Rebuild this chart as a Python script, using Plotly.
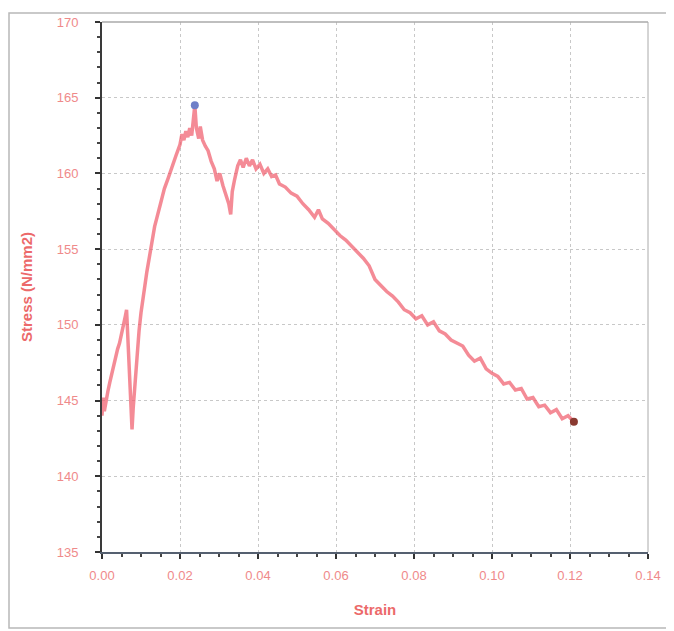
import plotly.graph_objects as go

strain = [0.0000, 0.0003, 0.0006, 0.0010, 0.0015, 0.0020, 0.0025, 0.0030, 0.0035, 0.0040,
          0.0045, 0.0050, 0.0055, 0.0060, 0.0063, 0.0066, 0.0070, 0.0074, 0.0077, 0.0080,
          0.0085, 0.0090, 0.0095, 0.0100, 0.0105, 0.0110, 0.0115, 0.0120, 0.0125, 0.0130,
          0.0135, 0.0140, 0.0145, 0.0150, 0.0155, 0.0160, 0.0170, 0.0180, 0.0190, 0.0200,
          0.0205, 0.0210, 0.0215, 0.0220, 0.0225, 0.0230, 0.0235, 0.0238, 0.0242, 0.0248,
          0.0252, 0.0258, 0.0265, 0.0272, 0.0280, 0.0288, 0.0295, 0.0302, 0.0310, 0.0318,
          0.0325, 0.0330, 0.0334, 0.0340, 0.0348, 0.0355, 0.0362, 0.0370, 0.0378, 0.0386,
          0.0395, 0.0405, 0.0415, 0.0425, 0.0435, 0.0445, 0.0455, 0.0470, 0.0485, 0.0500,
          0.0515, 0.0530, 0.0545, 0.0555, 0.0565, 0.0580, 0.0595, 0.0610, 0.0625, 0.0640,
          0.0655, 0.0670, 0.0685, 0.0700, 0.0715, 0.0730, 0.0745, 0.0760, 0.0775, 0.0790,
          0.0805, 0.0820, 0.0835, 0.0850, 0.0865, 0.0880, 0.0895, 0.0910, 0.0925, 0.0940,
          0.0955, 0.0970, 0.0985, 0.1000, 0.1015, 0.1030, 0.1045, 0.1060, 0.1075, 0.1090,
          0.1105, 0.1120, 0.1135, 0.1150, 0.1165, 0.1180, 0.1195, 0.1210]
stress = [144.0, 145.2, 144.3, 145.0, 145.6, 146.2, 146.8, 147.3, 147.9, 148.4,
          148.8, 149.5, 149.9, 150.6, 151.0, 149.0, 146.5, 143.8, 143.1, 144.5,
          146.3, 148.0, 149.6, 150.8, 151.9, 152.6, 153.5, 154.3, 155.2, 155.9,
          156.5, 157.0, 157.6, 158.0, 158.5, 159.0, 159.7, 160.5, 161.2, 161.9,
          162.6, 162.2, 162.8, 162.4, 163.0, 162.5, 163.6, 164.5, 163.0, 162.3,
          163.1, 162.2, 161.8, 161.5, 160.8, 160.3, 159.5, 160.0, 159.2, 158.6,
          158.0, 157.3, 158.8, 159.6, 160.5, 160.9, 160.4, 161.0, 160.5, 160.9,
          160.3, 160.6, 160.0, 160.3, 159.8, 159.9, 159.3, 159.1, 158.7, 158.5,
          158.0, 157.6, 157.1, 157.6, 157.0, 156.7, 156.3, 155.9, 155.6, 155.2,
          154.8, 154.4, 153.9, 153.0, 152.6, 152.2, 151.9, 151.5, 151.0, 150.8,
          150.4, 150.6, 150.0, 150.2, 149.6, 149.4, 149.0, 148.8, 148.6, 148.0,
          147.6, 147.8, 147.1, 146.8, 146.6, 146.1, 146.2, 145.7, 145.8, 145.1,
          145.2, 144.6, 144.7, 144.2, 144.4, 143.8, 144.0, 143.6]

peak_strain = [0.0238]
peak_stress = [164.5]
end_strain = [0.1210]
end_stress = [143.6]

x_ticks = [0.00, 0.02, 0.04, 0.06, 0.08, 0.10, 0.12, 0.14]
y_ticks = [135, 140, 145, 150, 155, 160, 165, 170]

label_color = "#ef8a8a"
title_color = "#ec6a6a"

fig = go.Figure()
fig.add_trace(go.Scatter(x=strain, y=stress, mode="lines",
                         line=dict(color="rgba(240,90,105,0.7)", width=3.5),
                         showlegend=False, hoverinfo="skip"))
fig.add_trace(go.Scatter(x=peak_strain, y=peak_stress, mode="markers",
                         marker=dict(color="#6f7fc8", size=8), showlegend=False))
fig.add_trace(go.Scatter(x=end_strain, y=end_stress, mode="markers",
                         marker=dict(color="#8a3a30", size=8), showlegend=False))

OFF = 8  # page body margin
W, H = 674 - 2 * OFF, 631 - OFF
L, R, T, B = 102 - OFF, (674 - OFF) - 648, 22 - OFF, 631 - 552
pw, ph = W - L - R, H - T - B

def px(xw):
    return (xw - OFF - L) / pw

def py(yw):
    return (OFF + T + ph - yw) / ph

fig.update_layout(
    width=W, height=H,
    margin=dict(l=L, r=R, t=T, b=B, autoexpand=False),
    paper_bgcolor="white", plot_bgcolor="white",
    font=dict(family="Liberation Sans, Arial, sans-serif", size=12, color=label_color),
    shapes=[
        dict(type="rect", xref="paper", yref="paper",
             x0=px(9), x1=px(671), y0=py(628), y1=py(13),
             line=dict(color="#b8b8b8", width=1.5), layer="below"),
        dict(type="line", xref="paper", yref="paper", x0=0, x1=1, y0=1, y1=1,
             line=dict(color="#aaaaaa", width=1.5)),
        dict(type="line", xref="paper", yref="paper", x0=1, x1=1, y0=0, y1=1,
             line=dict(color="#aaaaaa", width=1)),
    ],
)

fig.update_xaxes(
    range=[0, 0.14], tickvals=x_ticks, tickformat=".2f", automargin=False,
    showline=True, linecolor="#556070", linewidth=1.5,
    ticks="outside", ticklen=5, tickcolor="#333333", tickwidth=1.5,
    ticklabelstandoff=6,
    showgrid=True, gridcolor="#c8c8c8", griddash="dot", gridwidth=1,
    zeroline=False,
    minor=dict(dtick=0.005, ticks="outside", ticklen=3, tickcolor="#444444", showgrid=False),
    title=dict(text="<b>Strain</b>", font=dict(color=title_color, size=15), standoff=22),
    tickfont=dict(color=label_color, size=13),
)
fig.update_yaxes(
    range=[135, 170], tickvals=y_ticks, automargin=False,
    showline=True, linecolor="#3a3a3a", linewidth=2,
    ticks="outside", ticklen=5, tickcolor="#333333", tickwidth=1.5,
    ticklabelstandoff=14,
    showgrid=True, gridcolor="#c8c8c8", griddash="dot", gridwidth=1,
    zeroline=False,
    minor=dict(dtick=1, ticks="outside", ticklen=3, tickcolor="#444444", showgrid=False),
    title=dict(text="<b>Stress (N/mm2)</b>", font=dict(color=title_color, size=15), standoff=20),
    tickfont=dict(color=label_color, size=13),
)

fig.write_html("out.html")
